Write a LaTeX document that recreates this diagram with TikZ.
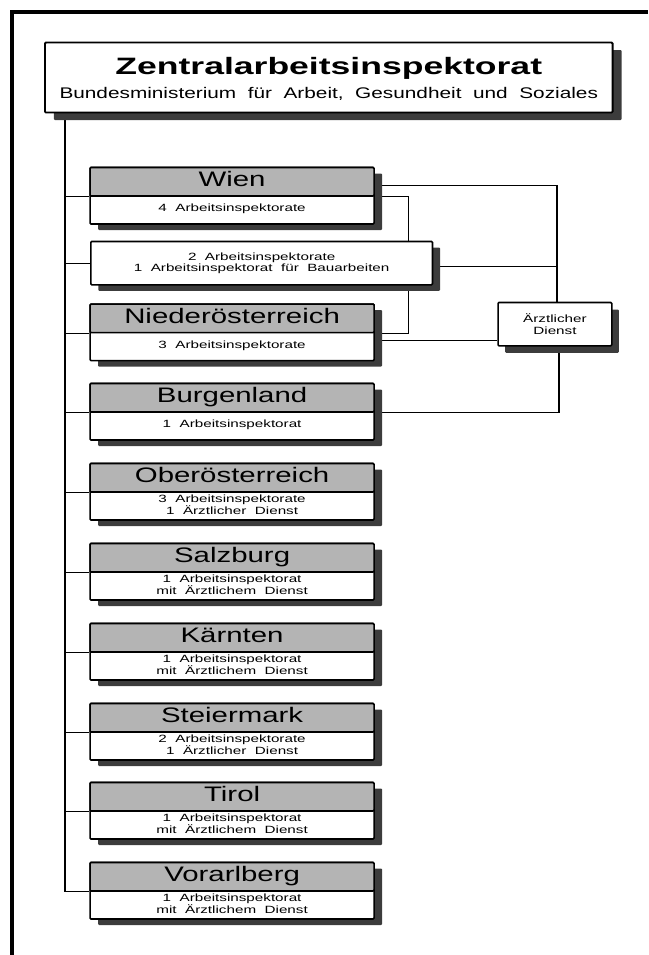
\documentclass[tikz,border=0pt]{standalone}
\usepackage{fontspec}
\setmainfont{Liberation Sans}
\newfontfamily\ttlfont[FakeStretch=1.5]{Liberation Sans}
\newfontfamily\subfont[FakeStretch=1.35,WordSpace=2]{Liberation Sans}
\newfontfamily\hdfont[FakeStretch=1.4]{Liberation Sans}
\newfontfamily\smfont[FakeStretch=1.45,WordSpace=2]{Liberation Sans}
\usetikzlibrary{shadows}
\definecolor{hdgray}{RGB}{180,180,180}
\definecolor{shadowc}{RGB}{60,60,60}
\pgfdeclarelayer{background}
\pgfsetlayers{background,main}
\tikzset{
  regbox/.style={draw, line width=1.6pt, fill=white, anchor=north west,
    minimum width=284pt, minimum height=56.5pt, inner sep=0pt, rounded corners=1pt,
    drop shadow={shadow xshift=8pt, shadow yshift=-6pt, fill=shadowc, opacity=1}},
  hdbox/.style={draw, line width=1.6pt, fill=hdgray, anchor=north west,
    minimum width=284pt, minimum height=28.5pt, inner sep=0pt, rounded corners=1pt},
  hdtext/.style={anchor=base, inner sep=0pt, font=\hdfont\fontsize{21}{24}\selectfont},
  bodytext/.style={anchor=center, inner sep=0pt, align=center, font=\smfont\fontsize{10.5}{11.7}\selectfont},
  wbox/.style={draw, line width=1.6pt, fill=white, anchor=north west, inner sep=0pt,
    rounded corners=1pt, align=center, font=\smfont\fontsize{10.5}{11.7}\selectfont},
  conn/.style={line width=1.3pt},
}
\newcommand\regionbox[4]{%
  \node[regbox] (#1) at (89.3,#2) {};
  \node[hdbox] (#1-h) at (#1.north west) {};
  \node[hdtext] (#1-n) at ([yshift=-20pt]#1.north) {#3};
  \node[bodytext] (#1-t) at ([yshift=-42.3pt]#1.north) {#4};
}
\begin{document}
\begin{tikzpicture}[x=1pt,y=-1pt]
\useasboundingbox (0,0) rectangle (648,955);
% outer frame (cropped)
\draw[line width=3.5pt, line join=miter] (12,955) -- (12,12) -- (648,12);
% title
\node[draw, line width=1.8pt, fill=white, anchor=north west, minimum width=567.7pt,
  minimum height=70pt, inner sep=0pt, rounded corners=1pt,
  drop shadow={shadow xshift=9pt, shadow yshift=-7.5pt, fill=shadowc, opacity=1}]
  (title) at (44,41.7) {};
\node[anchor=base, inner sep=0pt, font=\ttlfont\bfseries\fontsize{23.7}{28}\selectfont]
  (title-a) at ([yshift=-33.3pt]title.north) {Zentralarbeitsinspektorat};
\node[anchor=base, inner sep=0pt, font=\subfont\fontsize{15.4}{18}\selectfont]
  (title-b) at ([yshift=-56.6pt]title.north) {Bundesministerium für Arbeit, Gesundheit und Soziales};
% regions
\regionbox{wien}{166.7}{Wien}{4 Arbeitsinspektorate}
\node[wbox, minimum width=341.7pt, minimum height=43.3pt,
  drop shadow={shadow xshift=7.5pt, shadow yshift=-6pt, fill=shadowc, opacity=1}]
  (bau) at (90,240.7) {2 Arbeitsinspektorate\\1 Arbeitsinspektorat für Bauarbeiten};
\regionbox{noe}{303.3}{Niederösterreich}{3 Arbeitsinspektorate}
\regionbox{burg}{382.7}{Burgenland}{1 Arbeitsinspektorat}
\regionbox{ooe}{462.7}{Oberösterreich}{3 Arbeitsinspektorate\\1 Ärztlicher Dienst}
\regionbox{sbg}{542.7}{Salzburg}{1 Arbeitsinspektorat\\mit Ärztlichem Dienst}
\regionbox{ktn}{622.7}{Kärnten}{1 Arbeitsinspektorat\\mit Ärztlichem Dienst}
\regionbox{stmk}{702.7}{Steiermark}{2 Arbeitsinspektorate\\1 Ärztlicher Dienst}
\regionbox{tirol}{781.7}{Tirol}{1 Arbeitsinspektorat\\mit Ärztlichem Dienst}
\regionbox{vbg}{861.7}{Vorarlberg}{1 Arbeitsinspektorat\\mit Ärztlichem Dienst}
\node[wbox, minimum width=113.7pt, minimum height=43.3pt,
  drop shadow={shadow xshift=7pt, shadow yshift=-7pt, fill=shadowc, opacity=1}]
  (aerzt) at (497.3,301.7) {Ärztlicher\\Dienst};
% connectors
\begin{pgfonlayer}{background}
\coordinate (trunktop) at ([xshift=21pt]title.south west);
\draw[conn] (trunktop) -- (vbg-h.south west -| trunktop);
\foreach \n in {wien,noe,burg,ooe,sbg,ktn,stmk,tirol,vbg}
  \draw[conn] (\n-h.south west -| trunktop) -- (\n-h.south west);
\draw[conn] (bau.west -| trunktop) -- (bau.west);
\coordinate (ax) at ([xshift=2pt]aerzt.north);
\draw[conn] ([yshift=-4pt]wien-h.east) -| (ax);
\draw[conn] ([yshift=-3.5pt]bau.east) -- ([yshift=-3.5pt]bau.east -| ax);
\draw[conn] (wien-h.south east) -- ++(33.4,0) |- (noe-h.south east);
\draw[conn] ([yshift=-7pt]noe-h.south east) -- ([yshift=-7pt]noe-h.south east -| aerzt.west);
\draw[conn] ([xshift=4pt]aerzt.south) |- (burg-h.south east);
\end{pgfonlayer}
\end{tikzpicture}
\end{document}
